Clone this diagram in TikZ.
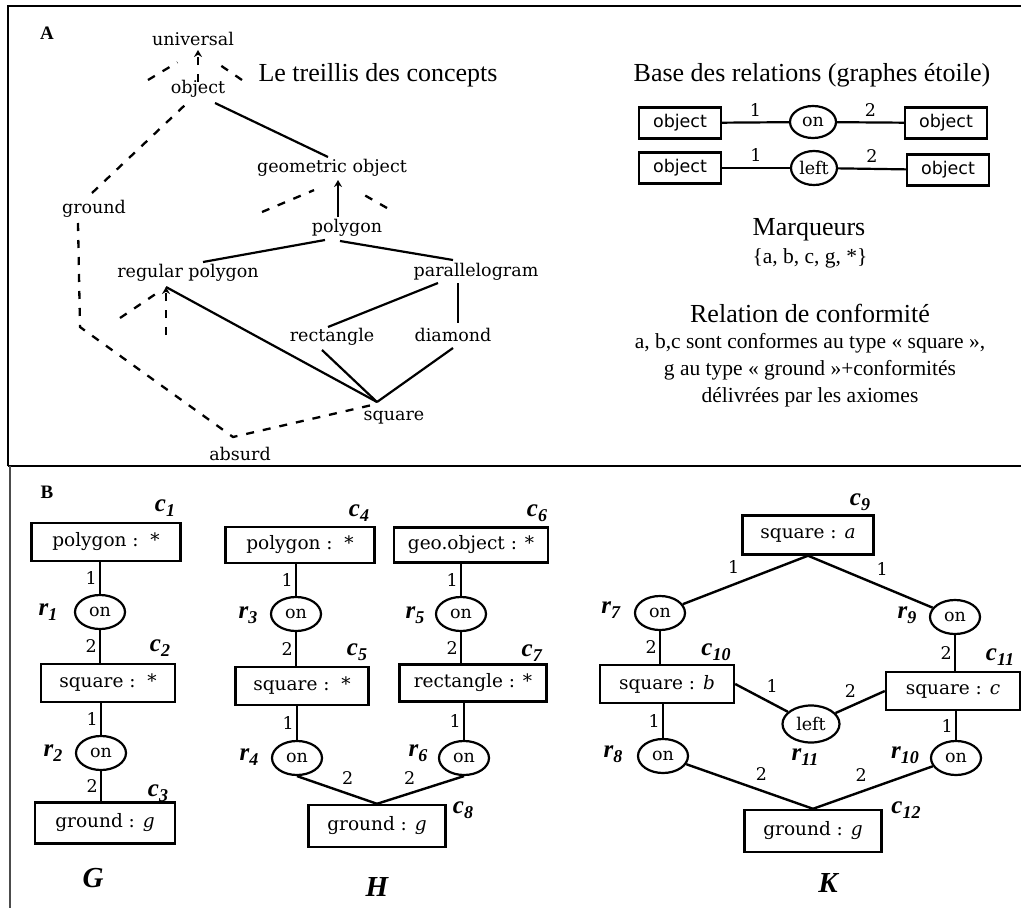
\documentclass[tikz,border=0pt]{standalone}
\usepackage{fontspec}
\setmainfont{Liberation Serif}
\newfontfamily\latfont{DejaVu Serif}
\newfontfamily\sansfont{DejaVu Sans}
\usetikzlibrary{shapes.geometric,arrows.meta}

\newcommand{\lbl}[2]{\textbf{\textit{#1}}\raisebox{-0.45ex}{\fontsize{18}{18}\selectfont\textbf{\textit{#2}}}}

\tikzset{
  lat/.style={font=\latfont\fontsize{17.5}{17.5}\selectfont, inner sep=2pt},
  isa/.style={line width=2.2pt},
  other/.style={line width=2.3pt, dash pattern=on 8pt off 9pt},
  tip/.style={-{Stealth[length=7pt,width=8pt]}},
  typebox/.style={draw, line width=2.4pt, minimum height=31pt, minimum width=82pt,
    font=\sansfont\fontsize{17.5}{17.5}\selectfont},
  concept/.style={draw, line width=2.4pt, minimum height=38pt, inner sep=2pt,
    font=\latfont\fontsize{18.5}{18.5}\selectfont},
  rel/.style={draw, ellipse, line width=2.2pt, minimum width=50pt, minimum height=34pt,
    inner sep=0pt, font=\latfont\fontsize{17.5}{17.5}\selectfont},
  arc/.style={line width=2.4pt},
  num/.style={font=\latfont\fontsize{17.5}{17.5}\selectfont, inner sep=2pt},
  rl/.style={font=\fontsize{25}{25}\selectfont, inner sep=0pt},
  big/.style={font=\fontsize{26}{30}\selectfont, inner sep=0pt},
  small/.style={font=\fontsize{21.5}{27}\selectfont, inner sep=0pt, align=center}
}

\begin{document}
\begin{tikzpicture}[x=1pt,y=-1pt]
  \useasboundingbox (0,0) rectangle (1021,908);
  % frames
  \draw[line width=2.4pt] (8,466) -- (8,6) -- (1023,6);
  \draw[line width=2.4pt] (8,466) -- (1023,466);
  \draw[line width=1.6pt, black!70] (10,466) -- (10,910);
  \node[font=\bfseries\fontsize{19}{19}\selectfont] (tagA) at (47,33) {A};
  \node[font=\bfseries\fontsize{19}{19}\selectfont] (tagB) at (47,492) {B};

  % ---- A : lattice of concepts
  \node[lat] (uni)  at (193,39)  {universal};
  \node[lat] (obj)  at (198,89)  {object};
  \node[lat] (geo)  at (332,168) {geometric object};
  \node[lat] (gnd)  at (94,209)  {ground};
  \node[lat] (poly) at (347,228) {polygon};
  \node[lat] (reg)  at (188,273) {regular polygon};
  \node[lat] (para) at (476,272) {parallelogram};
  \node[lat] (rect) at (332,337) {rectangle};
  \node[lat] (diam) at (453,335) {diamond};
  \node[lat] (sq)   at (394,418) {square};
  \node[lat] (abs)  at (240,454) {absurd};
  \node[big] (treillis) at (378,75) {Le treillis des concepts};

  \coordinate (unitip) at ([shift={(5,11)}]uni.center);
  \coordinate (geotip) at ([shift={(6,12)}]geo.center);
  \coordinate (regtip) at ([shift={(-22,14)}]reg.center);
  \coordinate (sqtop)  at ([shift={(-17,-16)}]sq.center);
  \coordinate (ul) at (148,80);
  \coordinate (ur) at (242,80);
  \coordinate (gl) at (262,212);
  \coordinate (gr) at (387,208);
  \coordinate (rl) at (120,318);
  \coordinate (rb) at (166,335);
  \coordinate (gc) at (80,327);

  \draw[other,tip] ([shift={(0,-7)}]obj.center) -- (unitip);
  \draw[other,shorten >=24pt] (ul) -- (unitip);
  \draw[other,shorten >=24pt] (ur) -- (unitip);
  \draw[isa] ([shift={(17,14)}]obj.center) -- ([shift={(-4,-11)}]geo.center);
  \draw[isa,tip] ([shift={(-9,-11)}]poly.center) -- (geotip);
  \draw[other,shorten >=26pt] (gl) -- (geotip);
  \draw[other,shorten >=25pt] (gr) -- (geotip);
  \draw[isa] ([shift={(-22,12)}]poly.center) -- ([shift={(15,-11)}]reg.center);
  \draw[isa] ([shift={(-7,13)}]poly.center) -- ([shift={(-23,-12)}]para.center);
  \draw[isa] ([shift={(-38,11)}]para.center) -- ([shift={(-4,-10)}]rect.center);
  \draw[isa] ([shift={(-18,11)}]para.center) -- ([shift={(5,-12)}]diam.center);
  \draw[isa] (regtip) -- (sqtop);
  \draw[isa] ([shift={(-10,13)}]rect.center) -- (sqtop);
  \draw[isa] ([shift={(0,13)}]diam.center) -- (sqtop);
  \draw[other,tip] (rb) -- (regtip);
  \draw[other,shorten >=6pt] (rl) -- (regtip);
  \draw[other] ([shift={(-2,-16)}]gnd.center) -- ([shift={(-13,16)}]obj.center);
  \draw[other] ([shift={(-16,14)}]gnd.center) -- (gc)
    -- ([shift={(-7,-17)}]abs.center) -- ([shift={(-22,-13)}]sq.center);

  % ---- A : relations, markers, conformity
  \node[big] (base) at (812,75) {Base des relations (graphes étoile)};
  \node[typebox] (ob1) at (680,123) {object};
  \node[rel, minimum width=46pt, minimum height=32pt] (on0) at (813,122) {on};
  \node[typebox] (ob2) at (946,123) {object};
  \node[typebox] (ob3) at (680,168) {object};
  \node[rel, minimum width=46pt, minimum height=34pt] (left0) at (814,168) {left};
  \node[typebox] (ob4) at (948,170) {object};
  \draw[isa] (ob1) -- node[num, above=3pt] {1} (on0);
  \draw[isa] (on0) -- node[num, above=3pt] {2} (ob2);
  \draw[isa] (ob3) -- node[num, above=3pt] {1} (left0);
  \draw[isa] (left0) -- node[num, above=3pt] {2} (ob4);

  \node[big] (marq) at (809,230) {Marqueurs};
  \node[small] (marqset) at (810,258) {\{a, b, c, g, *\}};
  \node[big] (conf) at (810,313) {Relation de conformité};
  \node[small] (conftxt) at (810,370) {a, b,c sont conformes au type « square »,\\
    g au type « ground »+conformités\\ délivrées par les axiomes};

  % ---- B : graph G
  \node[concept, minimum width=149pt] (c1) at (106,542) {polygon :\ \ *};
  \node[rel] (r1) at (100,612) {on};
  \node[concept, minimum width=134pt] (c2) at (108,683) {square :\ \ *};
  \node[rel] (r2) at (101,753) {on};
  \node[concept, minimum width=140pt, minimum height=41pt] (c3) at (105,823) {ground : \textit{g}};
  \draw[arc] (c1.south -| r1) -- node[num, left] {1} (r1);
  \draw[arc] (r1) -- node[num, left] {2} (r1 |- c2.north);
  \draw[arc] (c2.south -| r2) -- node[num, left] {1} (r2);
  \draw[arc] (r2) -- node[num, left] {2} (r2 |- c3.north);
  \node[rl] (lc1) at (165,508) {\lbl{c}{1}};
  \node[rl] (lc2) at (160,648) {\lbl{c}{2}};
  \node[rl] (lc3) at (158,793) {\lbl{c}{3}};
  \node[rl] (lr1) at (48,612) {\lbl{r}{1}};
  \node[rl] (lr2) at (53,753) {\lbl{r}{2}};
  \node[font=\bfseries\itshape\fontsize{29}{29}\selectfont] (gG) at (93,878) {G};

  % ---- B : graph H
  \node[concept, minimum width=149pt, minimum height=36pt] (c4) at (300,545) {polygon :\ \ *};
  \node[rel] (r3) at (296,614) {on};
  \node[concept, minimum width=133pt] (c5) at (302,686) {square :\ \ *};
  \node[rel] (r4) at (297,758) {on};
  \node[concept, minimum width=154pt, minimum height=35pt] (c6) at (471,545) {geo.object : *};
  \node[rel] (r5) at (461,614) {on};
  \node[concept, minimum width=147pt, minimum height=37pt] (c7) at (473,683) {rectangle : *};
  \node[rel] (r6) at (464,758) {on};
  \node[concept, minimum width=137pt, minimum height=42pt] (c8) at (377,826) {ground : \textit{g}};
  \draw[arc] (c4.south -| r3) -- node[num, left] {1} (r3);
  \draw[arc] (r3) -- node[num, left] {2} (r3 |- c5.north);
  \draw[arc] (c5.south -| r4) -- node[num, left] {1} (r4);
  \draw[arc] (c6.south -| r5) -- node[num, left] {1} (r5);
  \draw[arc] (r5) -- node[num, left] {2} (r5 |- c7.north);
  \draw[arc] (c7.south -| r6) -- node[num, left] {1} (r6);
  \draw[arc] (r4.south) -- node[num, above right=2pt] {2} (c8.north);
  \draw[arc] (r6.south) -- node[num, above left=2pt] {2} (c8.north);
  \node[rl] (lc4) at (359,513) {\lbl{c}{4}};
  \node[rl] (lc5) at (357,652) {\lbl{c}{5}};
  \node[rl] (lc6) at (537,513) {\lbl{c}{6}};
  \node[rl] (lc7) at (532,653) {\lbl{c}{7}};
  \node[rl] (lc8) at (463,810) {\lbl{c}{8}};
  \node[rl] (lr3) at (248,615) {\lbl{r}{3}};
  \node[rl] (lr4) at (249,757) {\lbl{r}{4}};
  \node[rl] (lr5) at (415,615) {\lbl{r}{5}};
  \node[rl] (lr6) at (418,753) {\lbl{r}{6}};
  \node[font=\bfseries\itshape\fontsize{29}{29}\selectfont] (gH) at (377,887) {H};

  % ---- B : graph K
  \node[concept, minimum width=131pt, minimum height=39pt] (c9) at (808,535) {square : \textit{a}};
  \node[rel] (r7) at (660,613) {on};
  \node[rel] (r9) at (955,617) {on};
  \node[concept, minimum width=134pt] (c10) at (667,684) {square : \textit{b}};
  \node[concept, minimum width=134pt] (c11) at (953,691) {square : \textit{c}};
  \node[rel, minimum width=57pt, minimum height=37pt] (r11) at (811,724) {left};
  \node[rel] (r8) at (663,756) {on};
  \node[rel] (r10) at (956,758) {on};
  \node[concept, minimum width=137pt, minimum height=42pt] (c12) at (813,831) {ground : \textit{g}};
  \draw[arc] (c9.south) -- node[num, above left=3pt] {1} (r7);
  \draw[arc] (c9.south) -- node[num, above right=3pt] {1} (r9);
  \draw[arc] (r7) -- node[num, left] {2} (r7 |- c10.north);
  \draw[arc] (r9) -- node[num, left] {2} (r9 |- c11.north);
  \draw[arc] (c10.east) -- node[num, above right=2pt] {1} (r11);
  \draw[arc] (c11.west) -- node[num, above left=1pt] {2} (r11);
  \draw[arc] (c10.south -| r8) -- node[num, left] {1} (r8);
  \draw[arc] (c11.south -| r10) -- node[num, left] {1} (r10);
  \draw[arc] (r8) -- node[num, above right=3pt] {2} (c12.north);
  \draw[arc] (r10) -- node[num, above left=3pt] {2} (c12.north);
  \node[rl] (lc9) at (860,502) {\lbl{c}{9}};
  \node[rl] (lc10) at (716,652) {\lbl{c}{10}};
  \node[rl] (lc11) at (1000,657) {\lbl{c}{11}};
  \node[rl] (lc12) at (906,810) {\lbl{c}{12}};
  \node[rl] (lr7) at (611,610) {\lbl{r}{7}};
  \node[rl] (lr8) at (613,754) {\lbl{r}{8}};
  \node[rl] (lr9) at (907,615) {\lbl{r}{9}};
  \node[rl] (lr10) at (905,755) {\lbl{r}{10}};
  \node[rl] (lr11) at (805,757) {\lbl{r}{11}};
  \node[font=\bfseries\itshape\fontsize{29}{29}\selectfont] (gK) at (828,883) {K};
\end{tikzpicture}
\end{document}
